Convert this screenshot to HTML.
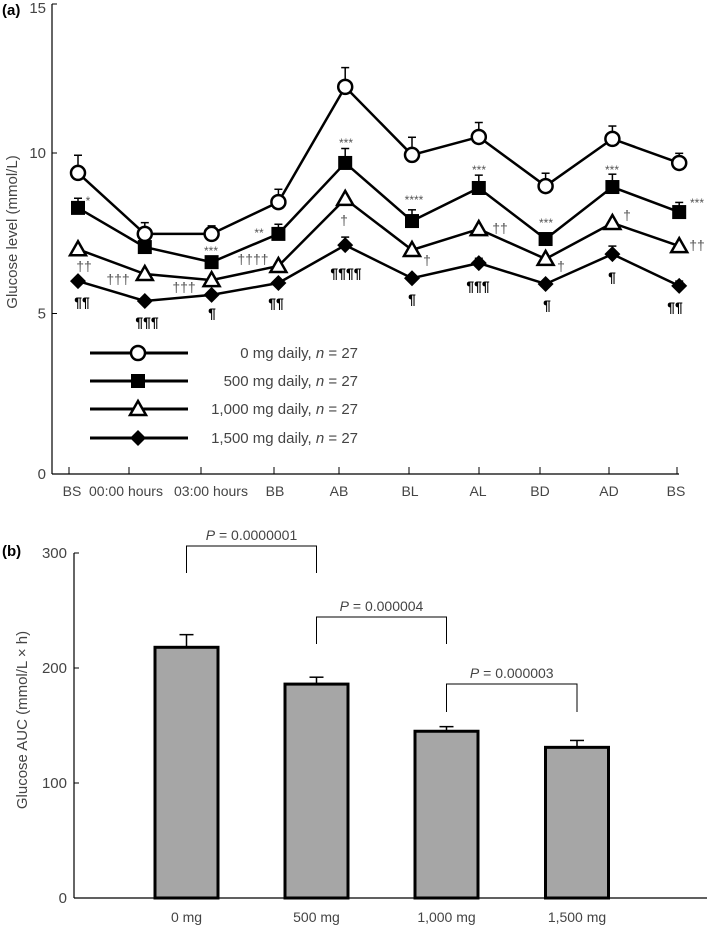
<!DOCTYPE html>
<html><head><meta charset="utf-8">
<style>
html,body{margin:0;padding:0;background:#fff;}
svg{display:block;font-family:"Liberation Sans",sans-serif;}
.tk{font-size:14px;fill:#444;}
.an{font-size:12px;fill:#555;}
.dg{font-size:14px;fill:#555;}
.pl{font-size:14px;fill:#000;font-weight:bold;}
</style></head>
<body>
<svg id="chart" width="709" height="926" viewBox="0 0 709 926">
<g id="topChart"></g>
<g id="botChart"></g>
</svg>
<script>
const categories = ["BS","00:00 hours","03:00 hours","BB","AB","BL","AL","BD","AD","BS"];
const s0 = [9.38,7.48,7.48,8.47,12.06,9.94,10.5,8.97,10.44,9.69];
const s500 = [8.29,7.07,6.6,7.48,9.69,7.88,8.91,7.32,8.94,8.16];
const s1000 = [7.0,6.23,6.04,6.48,8.57,6.98,7.63,6.7,7.82,7.1];
const s1500 = [6.01,5.39,5.58,5.95,7.13,6.1,6.57,5.92,6.85,5.86];
const e0 = [0.55,0.35,0.25,0.4,0.6,0.55,0.45,0.4,0.4,0.3];
const e500 = [0.3,0.3,0.1,0.3,0.45,0.35,0.4,0.1,0.4,0.3];
const e1000 = [0.05,0.05,0.05,0.05,0.05,0.05,0.05,0.05,0.05,0.05];
const e1500 = [0.1,0.1,0.1,0.1,0.25,0.1,0.15,0.1,0.25,0.15];
const yTicksTop = [0,5,10,15];
const seriesNames = ["0 mg daily, ","500 mg daily, ","1,000 mg daily, ","1,500 mg daily, "];
const barCats = ["0 mg","500 mg","1,000 mg","1,500 mg"];
const barVals = [218,186,145,131];
const barErr = [11,6,4,6];
const yTicksBot = [0,100,200,300];
const pLabels = ["0.0000001","0.000004","0.000003"];

const NS="http://www.w3.org/2000/svg";
function mk(parent,tag,attrs,text){const e=document.createElementNS(NS,tag);for(const k in attrs)e.setAttribute(k,attrs[k]);if(text!==undefined)e.textContent=text;parent.appendChild(e);return e;}

// ---- top chart
const gTop=document.getElementById('topChart');
const yT=v=>474-32.1*v;
const xP=i=>78+66.8*i;
const tickX=[69,129,201,274,339,409,479,540,609,677];
const labelX=[72,126,211,275,339,410,478,540,609,676];
let ax=mk(gTop,'line',{x1:52,y1:4,x2:52,y2:474,stroke:'#000','stroke-width':1.2});


let xa=mk(gTop,'line',{x1:52,y1:474,x2:679,y2:474,stroke:'#000','stroke-width':1.2});


yTicksTop.forEach(v=>{
  const y=Math.max(yT(v),4);
  mk(gTop,'line',{x1:52,y1:y,x2:57,y2:y,stroke:'#000'});
  const t=mk(gTop,'text',{x:46,y:y+(v===15?9:5),'text-anchor':'end',class:'tk',style:'font-size:15px'},String(v));
  
  
});
categories.forEach((c,i)=>{
  mk(gTop,'line',{x1:tickX[i],y1:474,x2:tickX[i],y2:467,stroke:'#000'});
  const t=mk(gTop,'text',{x:labelX[i],y:496,'text-anchor':'middle',class:'tk'},c);
  
  
});
let yt=mk(gTop,'text',{x:0,y:0,transform:'translate(17,232) rotate(-90)','text-anchor':'middle',class:'tk',style:'font-size:15px'},'Glucose level (mmol/L)');


let pa=mk(gTop,'text',{x:2,y:15,style:'font-size:15px;font-weight:bold'},'(a)');



function marker(g,type,x,y){
  let m;
  if(type===0) m=mk(g,'circle',{cx:x,cy:y,r:7,fill:'#fff',stroke:'#000','stroke-width':2.5});
  else if(type===1) m=mk(g,'rect',{x:x-7,y:y-7,width:14,height:14,fill:'#000'});
  else if(type===2) m=mk(g,'polygon',{points:`${x},${y-8} ${x+8},${y+6} ${x-8},${y+6}`,fill:'#fff',stroke:'#000','stroke-width':2.5});
  else m=mk(g,'polygon',{points:`${x},${y-8} ${x+8},${y} ${x},${y+8} ${x-8},${y}`,fill:'#000'});
  return m;
}
const allS=[s0,s500,s1000,s1500], allE=[e0,e500,e1000,e1500];
const sNames=['series-0mg','series-500mg','series-1000mg','series-1500mg'];
for(let k=3;k>=0;k--){
  const g=mk(gTop,'g',{});
  
  
  const s=allS[k],e=allE[k];
  s.forEach((v,i)=>{
    const y1=yT(v),y2=yT(v+e[i]),x=xP(i);
    mk(g,'line',{x1:x,y1:y1,x2:x,y2:y2,stroke:'#000','stroke-width':1.5});
    mk(g,'line',{x1:x-4,y1:y2,x2:x+4,y2:y2,stroke:'#000','stroke-width':1.5});
  });
  const pl=mk(g,'polyline',{points:s.map((v,i)=>xP(i)+','+yT(v)).join(' '),fill:'none',stroke:'#000','stroke-width':2.5});
  
  
  s.forEach((v,i)=>{
    const m=marker(g,k,xP(i),yT(v));
    
    
  });
}
// legend
const legY=[353,381,409,438];
seriesNames.forEach((n,k)=>{
  const g=mk(gTop,'g',{});
  
  
  mk(g,'line',{x1:90,y1:legY[k],x2:188,y2:legY[k],stroke:'#000','stroke-width':3});
  marker(g,k,138,legY[k]);
  const t=mk(g,'text',{x:358,y:legY[k]+5,'text-anchor':'end',class:'tk',style:'font-size:15px'});
  t.appendChild(document.createTextNode(n));
  mk(t,'tspan',{'font-style':'italic'},'n');
  t.appendChild(document.createTextNode(' = 27'));
});
// annotations
const ann=[
 ['*',88,205,'an'],['††',84,271,'dg'],['¶¶',82,307,'pl'],
 ['†††',118,284,'dg'],['¶¶¶',147,327,'pl'],
 ['***',211,255,'an'],['†††',184,292,'dg'],['¶',212,318,'pl'],
 ['**',259,237,'an'],['††††',253,264,'dg'],['¶¶',276,308,'pl'],
 ['***',346,147,'an'],['†',344,225,'dg'],['¶¶¶¶',346,278,'pl'],
 ['****',414,204,'an'],['†',427,265,'dg'],['¶',412,304,'pl'],
 ['***',479,174,'an'],['††',500,233,'dg'],['¶¶¶',478,291,'pl'],
 ['***',546,227,'an'],['†',561,271,'dg'],['¶',547,310,'pl'],
 ['***',612,174,'an'],['†',627,220,'dg'],['¶',612,282,'pl'],
 ['***',697,207,'an'],['††',697,250,'dg'],['¶¶',675,312,'pl']
];
ann.forEach(a=>{
  const t=mk(gTop,'text',{x:a[1],y:a[2],'text-anchor':'middle',class:a[3]},a[0]);
  
  
});

// ---- bottom chart
const gBot=document.getElementById('botChart');
const yB=v=>898-1.15*v;
const barX=[186.5,316.5,446.5,577];
const bw=63;
let bax=mk(gBot,'line',{x1:74,y1:yB(300),x2:74,y2:898,stroke:'#000','stroke-width':1.2});


let bxa=mk(gBot,'line',{x1:74,y1:898,x2:707,y2:898,stroke:'#000','stroke-width':1.2});


yTicksBot.forEach(v=>{
  mk(gBot,'line',{x1:74,y1:yB(v),x2:79,y2:yB(v),stroke:'#000'});
  const t=mk(gBot,'text',{x:67,y:yB(v)+5,'text-anchor':'end',class:'tk',style:'font-size:15px'},String(v));
  
  
});
let byt=mk(gBot,'text',{x:0,y:0,transform:'translate(27,720) rotate(-90)','text-anchor':'middle',class:'tk',style:'font-size:15px'},'Glucose AUC (mmol/L × h)');


let pb=mk(gBot,'text',{x:2,y:556,style:'font-size:15px;font-weight:bold'},'(b)');


barCats.forEach((c,i)=>{
  const x=barX[i],v=barVals[i],top2=yB(v+barErr[i]);
  mk(gBot,'line',{x1:x,y1:yB(v),x2:x,y2:top2,stroke:'#000','stroke-width':1.5});
  mk(gBot,'line',{x1:x-7,y1:top2,x2:x+7,y2:top2,stroke:'#000','stroke-width':1.5});
  const r=mk(gBot,'rect',{x:x-bw/2,y:yB(v),width:bw,height:898-yB(v),fill:'#a6a6a6',stroke:'#000','stroke-width':3});
  
  
  const t=mk(gBot,'text',{x:x,y:922,'text-anchor':'middle',class:'tk'},c);
  
  
});
const brTop=[546,617,684], brLeg=[573,644,712];
pLabels.forEach((p,i)=>{
  const g=mk(gBot,'g',{});
  
  
  const a=barX[i],b=barX[i+1];
  mk(g,'polyline',{points:`${a},${brLeg[i]} ${a},${brTop[i]} ${b},${brTop[i]} ${b},${brLeg[i]}`,fill:'none',stroke:'#000','stroke-width':1});
  const t=mk(g,'text',{x:(a+b)/2,y:brTop[i]-6,'text-anchor':'middle',class:'tk',style:'font-size:14px'});
  mk(t,'tspan',{'font-style':'italic'},'P');
  t.appendChild(document.createTextNode(' = '+p));
});
</script>
</body></html>
